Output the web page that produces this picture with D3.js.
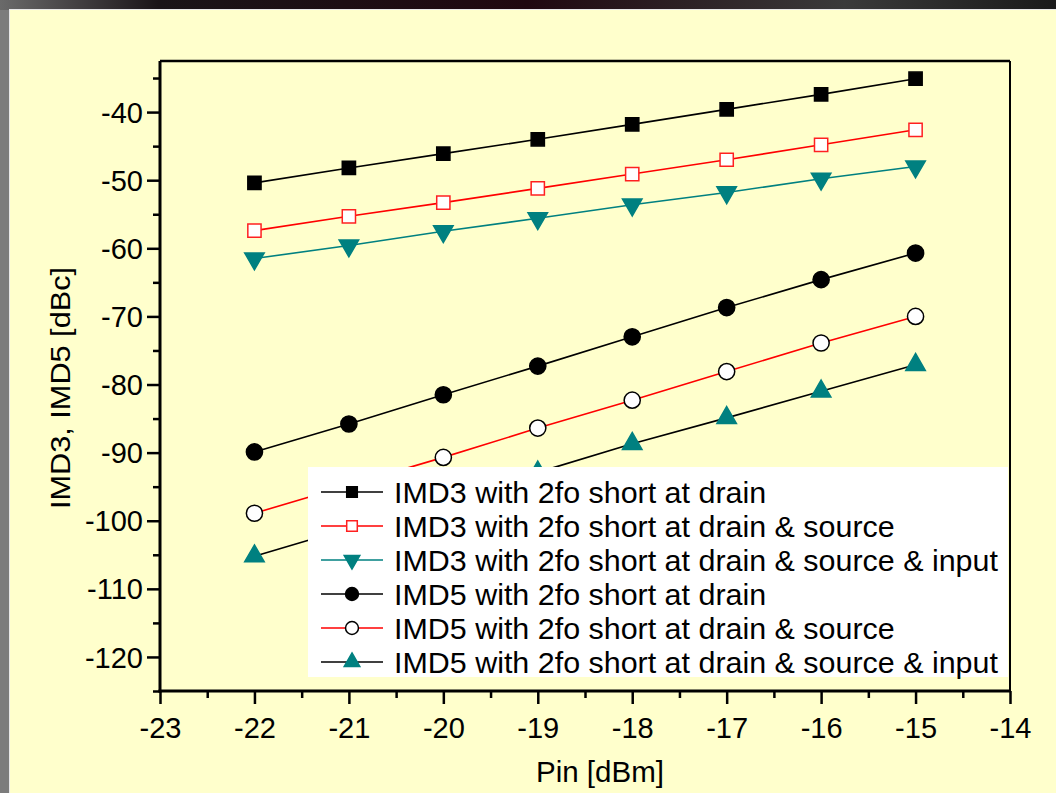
<!DOCTYPE html>
<html>
<head>
<meta charset="utf-8">
<script src="https://cdn.jsdelivr.net/npm/d3@7"></script>
<style>
  html, body { margin: 0; padding: 0; background: #2a2226; }
  svg { display: block; }
  text { font-family: "Liberation Sans", Arial, sans-serif; }
</style>
</head>
<body>
<svg id="chart" width="1056" height="793"></svg>
<script>
// ---------- data ----------
const pin = [-22, -21, -20, -19, -18, -17, -16, -15];
const imd3Drain = [-50.4, -48.2, -46.1, -44.0, -41.8, -39.6, -37.4, -35.1];
const imd3DrainSource = [-57.4, -55.3, -53.3, -51.2, -49.1, -47.0, -44.8, -42.6];
const imd3DrainSourceInput = [-61.5, -59.6, -57.5, -55.6, -53.6, -51.8, -49.8, -48.0];
const imd5Drain = [-89.9, -85.8, -81.5, -77.3, -73.0, -68.7, -64.6, -60.7];
const imd5DrainSource = [-98.9, -94.8, -90.7, -86.4, -82.3, -78.1, -73.9, -70.0];
const imd5DrainSourceInput = [-105.2, -101.1, -97.0, -92.9, -88.7, -84.9, -81.0, -77.1];
const seriesNames = [
  "IMD3 with 2fo short at drain",
  "IMD3 with 2fo short at drain & source",
  "IMD3 with 2fo short at drain & source & input",
  "IMD5 with 2fo short at drain",
  "IMD5 with 2fo short at drain & source",
  "IMD5 with 2fo short at drain & source & input"
];
const xTicks = [-23, -22, -21, -20, -19, -18, -17, -16, -15, -14];
const yTicks = [-120, -110, -100, -90, -80, -70, -60, -50, -40];
const xTitle = "Pin [dBm]";
const yTitle = "IMD3, IMD5 [dBc]";

// ---------- styles ----------
const styles = [
  { line: "#000000", shape: "square", fill: "#000000", stroke: "#000000" },
  { line: "#ff0000", shape: "square", fill: "#ffffff", stroke: "#ff2020" },
  { line: "#008080", shape: "triDown", fill: "#008080", stroke: "#008080" },
  { line: "#000000", shape: "circle", fill: "#000000", stroke: "#000000" },
  { line: "#ff0000", shape: "circle", fill: "#ffffff", stroke: "#000000" },
  { line: "#000000", shape: "triUp", fill: "#008080", stroke: "#008080" }
];
const allValues = [imd3Drain, imd3DrainSource, imd3DrainSourceInput, imd5Drain, imd5DrainSource, imd5DrainSourceInput];

const svg = d3.select("#chart");

// ---------- background ----------
svg.append("rect").attr("x", 0).attr("y", 0).attr("width", 1056).attr("height", 793).attr("fill", "#7c7c7c");
const bgGrad = svg.append("defs").append("linearGradient").attr("id", "topbg").attr("x1", 0).attr("x2", 1).attr("y1", 0).attr("y2", 0);
bgGrad.append("stop").attr("offset", "0%").attr("stop-color", "#6a6a6a");
bgGrad.append("stop").attr("offset", "15%").attr("stop-color", "#1a1418");
bgGrad.append("stop").attr("offset", "50%").attr("stop-color", "#200810");
bgGrad.append("stop").attr("offset", "80%").attr("stop-color", "#3a3a3a");
bgGrad.append("stop").attr("offset", "100%").attr("stop-color", "#1a1a1a");
svg.append("rect").attr("x", 0).attr("y", 0).attr("width", 1056).attr("height", 10).attr("fill", "url(#topbg)");
svg.append("rect").attr("x", 9.5).attr("y", 9.5).attr("width", 1050).attr("height", 790)
  .attr("fill", "#ffffcc").attr("stroke", "#e8e8e8").attr("stroke-width", 1);

// ---------- scales ----------
const pLeft = 160, pRight = 1010, pTop = 61, pBottom = 691;
const x = d3.scaleLinear().domain([-23, -14]).range([pLeft, pRight]);
const y = d3.scaleLinear().domain([-125, -32.5]).range([pBottom, pTop]);
const fmt = d => String(d);

// ---------- frame (top/right) ----------
svg.append("line").attr("x1", pLeft).attr("x2", pRight).attr("y1", pTop).attr("y2", pTop).attr("stroke", "#000").attr("stroke-width", 2.5);
svg.append("line").attr("x1", pRight).attr("x2", pRight).attr("y1", pTop).attr("y2", pBottom).attr("stroke", "#000").attr("stroke-width", 2);

// ---------- axes ----------
const yMinor = d3.range(-125, -32, 10);
const xMinor = d3.range(-22.5, -14, 1);

const yAxisG = svg.append("g").attr("transform", `translate(${pLeft},0)`)
  .call(d3.axisLeft(y).tickValues(yTicks).tickSize(13).tickPadding(4).tickFormat(fmt));
yAxisG.append("g").call(d3.axisLeft(y).tickValues(yMinor).tickSize(7).tickFormat(""))
  .select(".domain").remove();
const xAxisG = svg.append("g").attr("transform", `translate(0,${pBottom})`)
  .call(d3.axisBottom(x).tickValues(xTicks).tickSize(13).tickPadding(8).tickFormat(fmt));
xAxisG.append("g").call(d3.axisBottom(x).tickValues(xMinor).tickSize(7).tickFormat(""))
  .select(".domain").remove();

[yAxisG, xAxisG].forEach(g => {
  g.selectAll(".domain").attr("stroke", "#000").attr("stroke-width", 3);
  g.selectAll(".tick line").attr("stroke", "#000").attr("stroke-width", 2.5);
  g.selectAll(".tick text").attr("fill", "#000").attr("font-size", 29)
    .attr("font-family", "'Liberation Sans', Arial, sans-serif");
});
yAxisG.select(".domain").attr("d", `M0,${pTop}V${pBottom + 1.5}`);
xAxisG.select(".domain").attr("d", `M${pLeft - 1.5},0H${pRight + 1}`);
xAxisG.selectAll(".tick text").attr("dy", "0.88em");
yAxisG.selectAll(".tick text").attr("dy", "0.35em");

// axis titles
svg.append("text").attr("x", 600).attr("y", 782).attr("text-anchor", "middle")
  .attr("font-size", 30).attr("fill", "#000").text(xTitle)
  .attr("textLength", 128).attr("lengthAdjust", "spacingAndGlyphs");
svg.append("text").attr("transform", `translate(70,388) rotate(-90)`).attr("text-anchor", "middle")
  .attr("font-size", 28).attr("fill", "#000").text(yTitle)
  .attr("textLength", 242).attr("lengthAdjust", "spacingAndGlyphs");

// ---------- markers ----------
function drawMarker(g, shape, cx, cy, sc, st) {
  let path;
  if (shape === "square") path = d3.symbol(d3.symbolSquare, 175 * sc * sc)();
  else if (shape === "circle") path = d3.symbol(d3.symbolCircle, 205 * sc * sc)();
  else path = d3.symbol(d3.symbolTriangle, 165 * sc * sc)();
  const rot = shape === "triDown" ? 180 : 0;
  g.append("path").attr("d", path)
    .attr("transform", `translate(${cx},${cy}) rotate(${rot})`)
    .attr("fill", st.fill).attr("stroke", st.stroke).attr("stroke-width", 1.5);
}

const line = d3.line().x((d, i) => x(pin[i])).y(d => y(d));
const plotG = svg.append("g");
allValues.forEach((vals, k) => {
  plotG.append("path").datum(vals).attr("d", line)
    .attr("fill", "none").attr("stroke", styles[k].line).attr("stroke-width", 1.6);
});
allValues.forEach((vals, k) => {
  vals.forEach((v, i) => drawMarker(plotG, styles[k].shape, x(pin[i]), y(v), 1, styles[k]));
});

// ---------- legend ----------
const legG = svg.append("g");
legG.append("rect").attr("x", 308).attr("y", 467).attr("width", 700).attr("height", 210).attr("fill", "#ffffff");
const rowY0 = 492, rowDy = 34;
const texts = [];
seriesNames.forEach((name, k) => {
  const cy = rowY0 + k * rowDy;
  legG.append("line").attr("x1", 321).attr("x2", 383).attr("y1", cy).attr("y2", cy)
    .attr("stroke", styles[k].line).attr("stroke-width", 1.6);
  drawMarker(legG, styles[k].shape, 352, cy, 0.8, styles[k]);
  const t = legG.append("text").attr("x", 0).attr("y", 0)
    .attr("font-size", 29.5).attr("fill", "#000").text(name);
  texts.push({ t, cy });
});
const maxW = d3.max(texts, d => d.t.node().getComputedTextLength());
const sx = 604 / maxW;
texts.forEach(d => d.t.attr("transform", `translate(394,${d.cy + 10.5}) scale(${sx},1)`));
</script>
</body>
</html>
